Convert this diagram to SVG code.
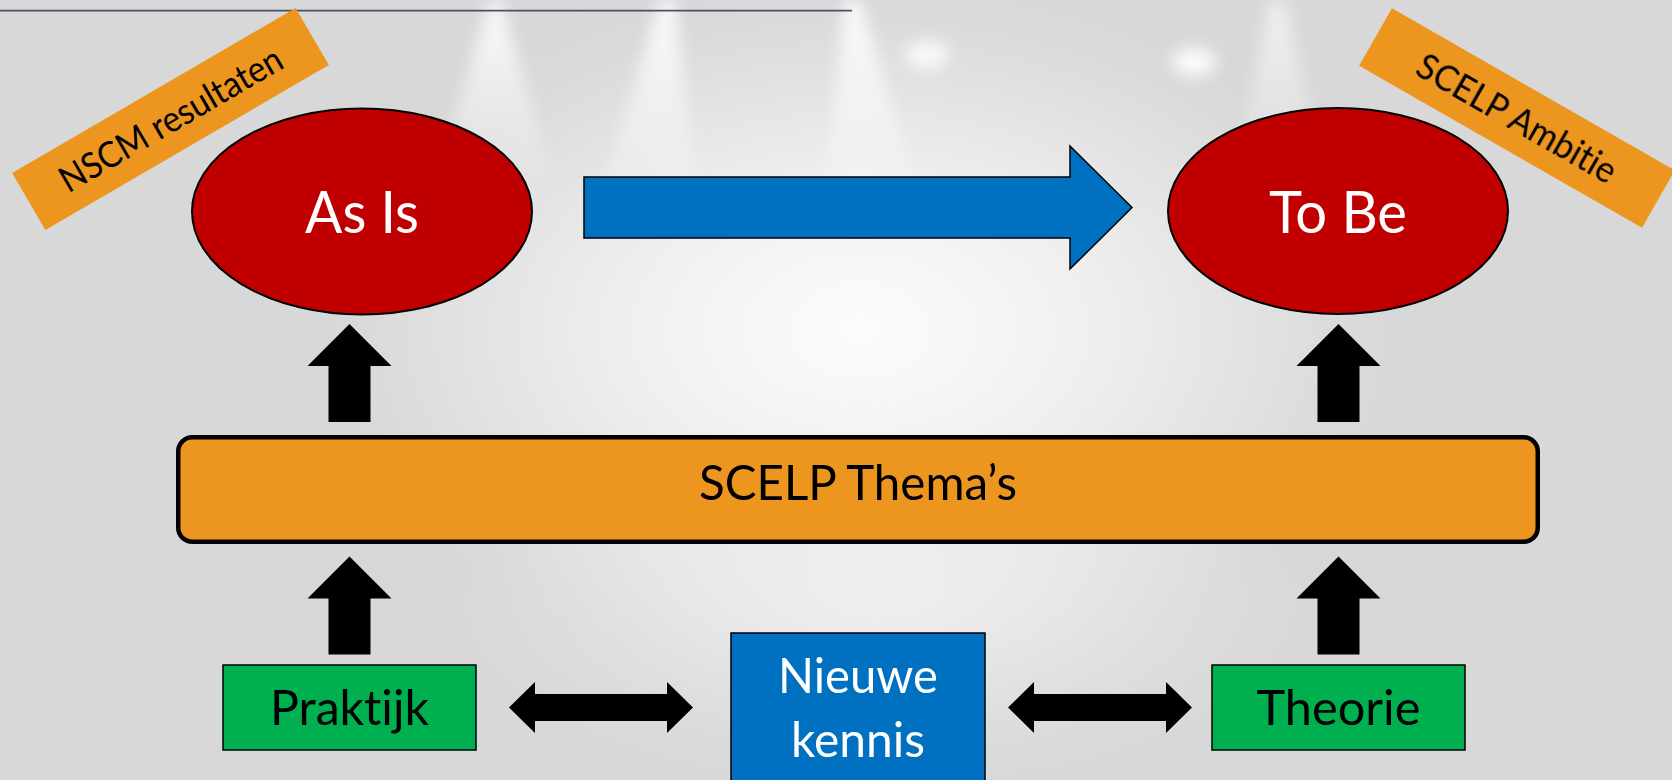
<svg xmlns="http://www.w3.org/2000/svg" width="1672" height="780" viewBox="0 0 1672 780">
<defs>
<radialGradient id="glow" cx="0.5" cy="0.5" r="0.5">
<stop offset="0" stop-color="#ffffff" stop-opacity="0.95"/>
<stop offset="0.45" stop-color="#ffffff" stop-opacity="0.6"/>
<stop offset="1" stop-color="#ffffff" stop-opacity="0"/>
</radialGradient>
<radialGradient id="glow2" cx="0.5" cy="0.5" r="0.5">
<stop offset="0" stop-color="#f2f2f2" stop-opacity="0.9"/>
<stop offset="1" stop-color="#f2f2f2" stop-opacity="0"/>
</radialGradient>
<linearGradient id="beam" x1="0" y1="0" x2="0" y2="1">
<stop offset="0" stop-color="#ffffff" stop-opacity="0.9"/>
<stop offset="1" stop-color="#ffffff" stop-opacity="0"/>
</linearGradient>
<filter id="blur" x="-50%" y="-50%" width="200%" height="200%"><feGaussianBlur stdDeviation="8"/></filter>
<filter id="blur2" x="-50%" y="-50%" width="200%" height="200%"><feGaussianBlur stdDeviation="25"/></filter>
</defs>
<style>
.lbl{font-family:Lato,"Liberation Sans",sans-serif;font-variant-ligatures:none;font-feature-settings:"liga" 0,"clig" 0,"dlig" 0;}
.ell{fill:#C00000;stroke:#000;stroke-width:2;}
.green{fill:#00B050;stroke:#000;stroke-width:1.5;}
.blue{fill:#0070C0;stroke:#000;stroke-width:1.5;}
.tag{fill:#EC951F;}
.wt{fill:#fff;}
.bk{fill:#000;}
</style>
<g id="background">
<rect x="0" y="0" width="1672" height="780" fill="#d8d8d8"/>
<ellipse cx="860" cy="330" rx="520" ry="330" fill="url(#glow)" filter="url(#blur2)"/>
<ellipse cx="880" cy="600" rx="420" ry="170" fill="url(#glow2)" filter="url(#blur2)"/>
<g filter="url(#blur)">
<polygon points="490,0 500,0 560,200 430,200" fill="url(#beam)"/>
<polygon points="660,0 675,0 700,220 590,230" fill="url(#beam)"/>
<polygon points="845,0 860,0 930,230 820,230" fill="url(#beam)"/>
<polygon points="1270,0 1285,0 1330,200 1230,200" fill="url(#beam)" opacity="0.7"/>
<ellipse cx="927" cy="55" rx="22" ry="14" fill="#fff" opacity="0.8"/>
<ellipse cx="1194" cy="62" rx="22" ry="14" fill="#fff" opacity="0.9"/>
</g>
<line x1="0" y1="10.7" x2="852" y2="10.7" stroke="#44546A" stroke-width="1.8"/>
</g>
<g id="connectors">
<polygon class="blue" points="584,177 1070,177 1070,146 1132,207.5 1070,269 1070,238 584,238"/>
<polygon class="bk" points="349.5,324 391.5,366 370.5,366 370.5,422 328.5,422 328.5,366 307.5,366"/>
<polygon class="bk" points="1338.5,324 1380.5,366 1359.5,366 1359.5,422 1317.5,422 1317.5,366 1296.5,366"/>
<polygon class="bk" points="349.5,556.5 391.5,598.5 370.5,598.5 370.5,654.5 328.5,654.5 328.5,598.5 307.5,598.5"/>
<polygon class="bk" points="1338.5,556.5 1380.5,598.5 1359.5,598.5 1359.5,654.5 1317.5,654.5 1317.5,598.5 1296.5,598.5"/>
<polygon class="bk" points="509,707.5 535,682 535,694 667,694 667,682 693,707.5 667,733 667,721 535,721 535,733"/>
<polygon class="bk" points="1008,707.5 1034,682 1034,694 1166,694 1166,682 1192,707.5 1166,733 1166,721 1034,721 1034,733"/>
</g>
<g id="nscm">
<g transform="translate(170.5,119) rotate(-30.2)">
<rect class="tag" x="-164" y="-33" width="328" height="66"/>
<text class="lbl bk" x="0" y="13" font-size="36" text-anchor="middle" textLength="252" lengthAdjust="spacingAndGlyphs">NSCM resultaten</text>
</g>
</g>
<g id="ambitie">
<g transform="translate(1517,118) rotate(29.8)">
<rect class="tag" x="-163" y="-33" width="326" height="66"/>
<text class="lbl bk" x="0" y="13" font-size="36" text-anchor="middle" textLength="224" lengthAdjust="spacingAndGlyphs">SCELP Ambitie</text>
</g>
</g>
<g id="asis">
<ellipse class="ell" cx="362" cy="211.5" rx="170" ry="103"/>
<text class="lbl wt" x="362" y="233" font-size="58" text-anchor="middle" textLength="114" lengthAdjust="spacingAndGlyphs">As Is</text>
</g>
<g id="tobe">
<ellipse class="ell" cx="1338" cy="211" rx="170" ry="103"/>
<text class="lbl wt" x="1338" y="233" font-size="58" text-anchor="middle" textLength="138" lengthAdjust="spacingAndGlyphs">To Be</text>
</g>
<g id="themas">
<rect x="178.25" y="437.25" width="1359.5" height="104.5" rx="14" fill="#EC951F" stroke="#000" stroke-width="4.5"/>
<text class="lbl bk" x="858" y="500" font-size="48" text-anchor="middle" textLength="318" lengthAdjust="spacingAndGlyphs">SCELP Thema’s</text>
</g>
<g id="praktijk">
<rect class="green" x="223" y="665" width="253" height="85"/>
<text class="lbl bk" x="349.5" y="725" font-size="48" text-anchor="middle" textLength="159" lengthAdjust="spacingAndGlyphs">Praktijk</text>
</g>
<g id="nieuwe">
<rect class="blue" x="731" y="633" width="254" height="170"/>
<text class="lbl wt" font-size="48" text-anchor="middle"><tspan x="858" y="692.7" textLength="160" lengthAdjust="spacingAndGlyphs">Nieuwe</tspan><tspan x="858" y="756.7" textLength="134" lengthAdjust="spacingAndGlyphs">kennis</tspan></text>
</g>
<g id="theorie">
<rect class="green" x="1212" y="665" width="253" height="85"/>
<text class="lbl bk" x="1338.5" y="725" font-size="48" text-anchor="middle" textLength="164" lengthAdjust="spacingAndGlyphs">Theorie</text>
</g>
</svg>
